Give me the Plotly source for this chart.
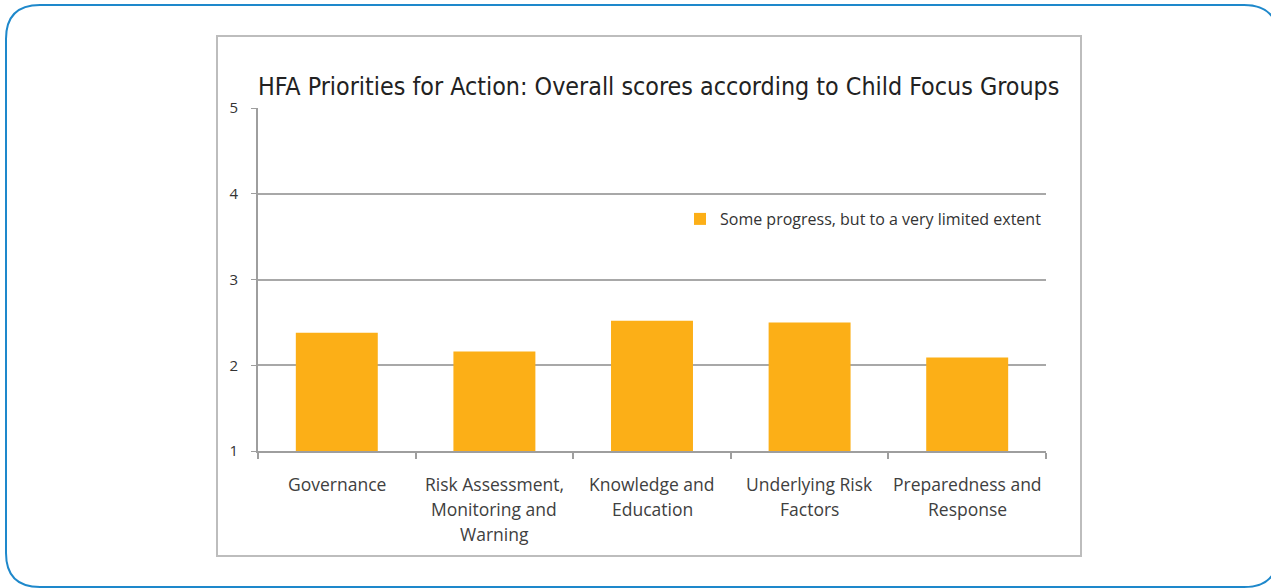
import plotly.graph_objects as go

# data
categories = ["Governance", "Risk Assessment,<br>Monitoring and<br>Warning",
              "Knowledge and<br>Education", "Underlying Risk<br>Factors",
              "Preparedness and<br>Response"]
scores = [2.38, 2.16, 2.52, 2.50, 2.09]
series_name = "Some progress, but to a very limited extent"
y_ticks = [1, 2, 3, 4, 5]

W, H = 1271, 588
L, R, T, B = 258, 225, 108, 137
pw, ph = W - L - R, H - T - B


def px(x):
    return (x - L) / pw


def py(y):
    return (H - B - y) / ph


def rounded(x0, y0, x1, y1, r):
    # path in paper coords from pixel box
    pts = [
        f"M {px(x0 + r)} {py(y0)}",
        f"L {px(x1 - r)} {py(y0)}",
        f"Q {px(x1)} {py(y0)} {px(x1)} {py(y0 + r)}",
        f"L {px(x1)} {py(y1 - r)}",
        f"Q {px(x1)} {py(y1)} {px(x1 - r)} {py(y1)}",
        f"L {px(x0 + r)} {py(y1)}",
        f"Q {px(x0)} {py(y1)} {px(x0)} {py(y1 - r)}",
        f"L {px(x0)} {py(y0 + r)}",
        f"Q {px(x0)} {py(y0)} {px(x0 + r)} {py(y0)}",
        "Z",
    ]
    return " ".join(pts)


fig = go.Figure()
fig.add_trace(go.Bar(x=categories, y=scores, name=series_name,
                     marker=dict(color="#FCAF17", line=dict(width=0)),
                     showlegend=True))

## category labels, one annotation per line so the spacing matches
annos = [dict(text="HFA Priorities for Action: Overall scores according to Child Focus Groups",
              xref="paper", yref="paper", x=px(658), y=py(87),
              xanchor="center", yanchor="middle", showarrow=False,
              font=dict(family="Liberation Sans Narrow, DejaVu Sans Condensed", size=24.8,
                        color="#222"))]
for cat in categories:
    for i, line in enumerate(cat.split("<br>")):
        annos.append(dict(text=line, x=cat, xref="x", yref="paper",
                          y=py(484 + 25 * i), yanchor="middle", xanchor="center",
                          showarrow=False,
                          font=dict(family="Open Sans", size=17.5, color="#404040")))

fig.update_layout(
    width=W, height=H,
    margin=dict(l=L, r=R, t=T, b=B),
    paper_bgcolor="white", plot_bgcolor="white",
    bargap=0.48,
    font=dict(family="Open Sans", color="#333"),
    legend=dict(x=px(680), y=py(202), xanchor="left", yanchor="top",
                bgcolor="rgba(0,0,0,0)", itemwidth=30,
                font=dict(family="Open Sans", size=16, color="#333")),
    shapes=[
        dict(type="path", xref="paper", yref="paper", layer="below",
             path=rounded(6, 5, 1278, 587, 34),
             line=dict(color="#1E88CB", width=2)),
        dict(type="rect", xref="paper", yref="paper", layer="below",
             x0=px(217), x1=px(1081), y0=py(36), y1=py(556),
             line=dict(color="#BDBDBD", width=2)),
    ],
    annotations=annos,
)

fig.update_xaxes(showline=True, linecolor="#9E9E9E", linewidth=2,
                 ticks="outside", tickson="boundaries", ticklen=6,
                 tickcolor="#9E9E9E", tickwidth=1.5, showticklabels=False,
                 showgrid=False)
fig.update_yaxes(range=[1, 5], tickvals=y_ticks, showline=True,
                 linecolor="#9E9E9E", linewidth=2, ticks="outside", ticklen=5,
                 tickcolor="#9E9E9E", showgrid=True, gridcolor="#A8A8A8",
                 gridwidth=1.5, zeroline=False, ticklabelstandoff=10,
                 tickfont=dict(family="Open Sans", size=15, color="#333"))

fig.write_html("out.html", config={"displayModeBar": False},
               post_script="document.body.style.margin='0';")
